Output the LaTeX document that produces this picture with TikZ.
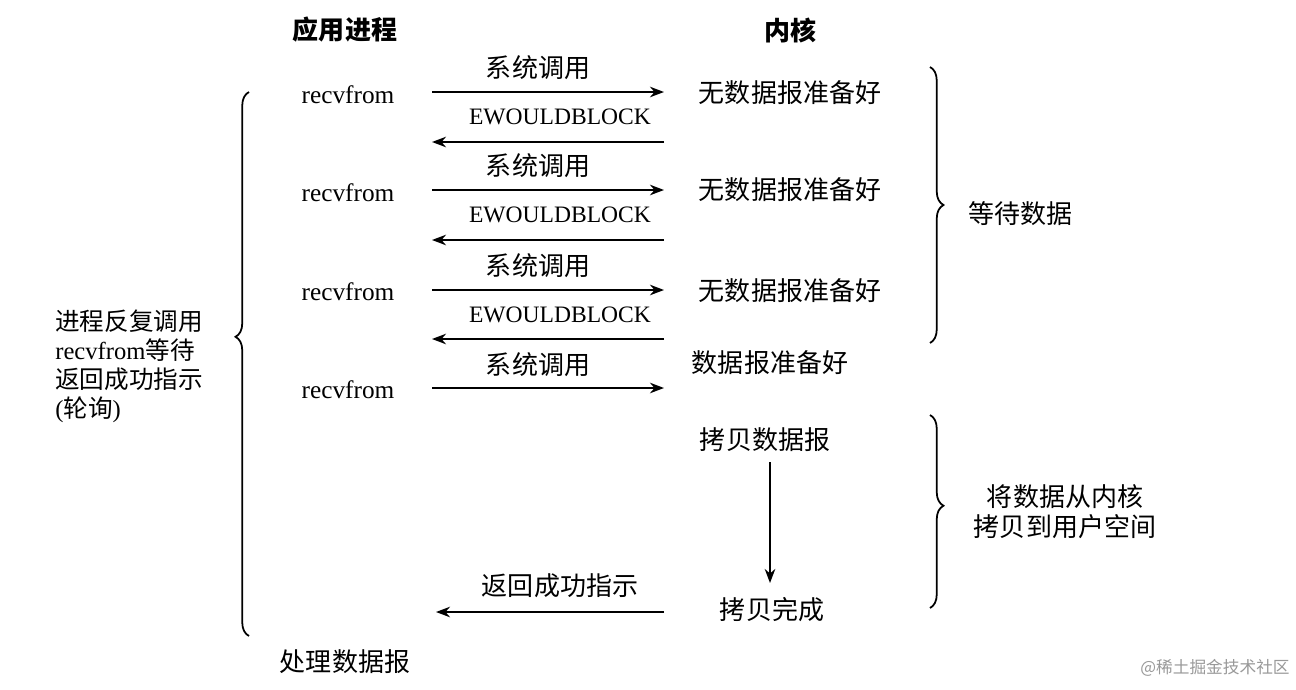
\documentclass[tikz,border=0pt]{standalone}
\usepackage{fontspec}
\setmainfont{Liberation Serif}
\newfontfamily\cjk{Noto Sans CJK SC}
\usetikzlibrary{arrows.meta,decorations.pathreplacing}
\begin{document}
\begin{tikzpicture}[x=0.02cm,y=-0.02cm,
  zh/.style={font=\cjk\fontsize{14.8}{17}\selectfont, inner sep=0pt},
  zhb/.style={font=\cjk\bfseries\fontsize{14.8}{17}\selectfont, inner sep=0pt},
  en/.style={font=\fontsize{14.4}{17}\selectfont, inner sep=0pt},
  ew/.style={font=\fontsize{13.4}{16}\selectfont, inner sep=0pt},
  msg/.style={line width=1.1pt, -{Stealth[length=8pt,width=6pt]}},
  brc/.style={decorate, line width=1pt, decoration={brace, amplitude=0.27cm, aspect=#1}},
]
\useasboundingbox[fill=white] (0,0) rectangle (1296,690);

% headers
\node[zhb] (app) at (345,30) {应用进程};
\node[zhb] (ker) at (790,30) {内核};

% application side
\node[en] (r1) at (348,95) {recvfrom};
\node[en] (r2) at (348,193) {recvfrom};
\node[en] (r3) at (348,292) {recvfrom};
\node[en] (r4) at (348,390) {recvfrom};
\node[zh] (proc) at (345,662) {处理数据报};

% kernel side
\node[zh] (k1) at (790,93) {无数据报准备好};
\node[zh] (k2) at (790,190) {无数据报准备好};
\node[zh] (k3) at (790,291) {无数据报准备好};
\node[zh] (k4) at (770,363) {数据报准备好};
\node[zh] (cp) at (765,440) {拷贝数据报};
\node[zh] (done) at (772,610) {拷贝完成};

% arrow end points
\foreach \i/\y in {1/92,2/190,3/290,4/388} {
  \coordinate (cs\i) at (432,\y);
  \coordinate (ce\i) at (664,\y);
}
\foreach \i/\y in {1/142,2/240,3/339} {
  \coordinate (bs\i) at (664,\y);
  \coordinate (be\i) at (432,\y);
}
\coordinate (rs) at (664,612);
\coordinate (re) at (436,612);
\coordinate (ds) at (770,462);
\coordinate (de) at (770,583);

% system calls
\node[zh] (c1) at (538,68) {系统调用};
\node[zh] (c2) at (538,166) {系统调用};
\node[zh] (c3) at (538,266) {系统调用};
\node[zh] (c4) at (538,365) {系统调用};
\draw[msg] (cs1) -- (ce1);
\draw[msg] (cs2) -- (ce2);
\draw[msg] (cs3) -- (ce3);
\draw[msg] (cs4) -- (ce4);

% EWOULDBLOCK returns
\node[ew] (w1) at (560,117) {EWOULDBLOCK};
\node[ew] (w2) at (560,215) {EWOULDBLOCK};
\node[ew] (w3) at (560,315) {EWOULDBLOCK};
\draw[msg] (bs1) -- (be1);
\draw[msg] (bs2) -- (be2);
\draw[msg] (bs3) -- (be3);

% copy
\draw[msg] (ds) -- (de);

% success return
\node[zh] (ok) at (560,586) {返回成功指示};
\draw[msg] (rs) -- (re);

% braces
\draw[brc=0.55] (249,636) -- (249,92);
\draw[brc=0.5] (930,67) -- (930,343);
\draw[brc=0.47] (930,415) -- (930,608);

% brace labels
\node[font=\fontsize{14}{16.5}\selectfont, inner sep=0pt, anchor=west, align=left] (poll) at (55,366)
  {{\cjk 进程反复调用}\\recvfrom{\cjk 等待}\\{\cjk 返回成功指示}\\({\cjk 轮询})};
\node[zh, anchor=west] (wait) at (968,214) {等待数据};
\node[zh, align=center, font=\cjk\fontsize{14.8}{17}\selectfont] (copy) at (1065,512) {将数据从内核\\拷贝到用户空间};

% watermark
\node[font=\cjk\fontsize{9.5}{11}\selectfont, text=black!40, inner sep=0pt, anchor=east] (wm) at (1290,668) {@稀土掘金技术社区};
\end{tikzpicture}
\end{document}
